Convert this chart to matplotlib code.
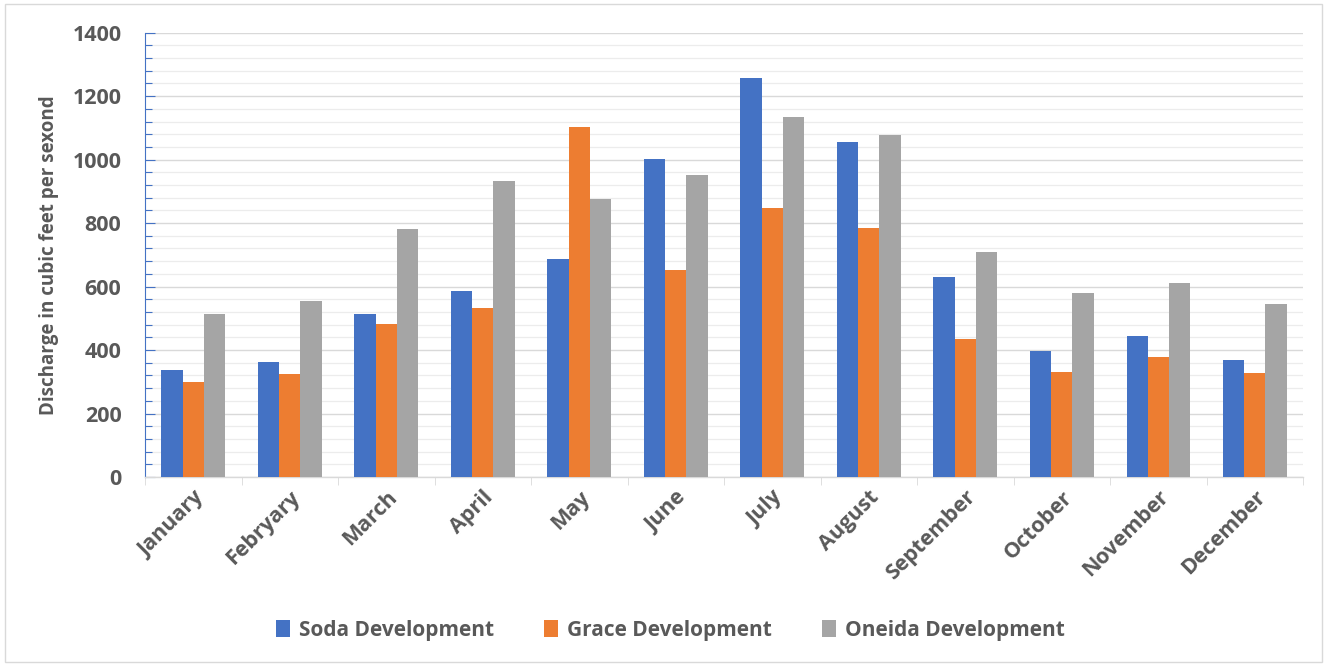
import matplotlib.pyplot as plt
import numpy as np
from matplotlib.patches import Rectangle
from matplotlib.ticker import MultipleLocator

# ---- data ----
months = ['January', 'Febryary', 'March', 'April', 'May', 'June',
          'July', 'August', 'September', 'October', 'November', 'December']
soda = [337, 361, 513, 587, 686, 1001, 1256, 1054, 631, 398, 445, 370]
grace = [300, 324, 481, 531, 1103, 652, 848, 786, 434, 330, 377, 327]
oneida = [515, 554, 780, 932, 877, 950, 1133, 1076, 710, 581, 610, 546]

series = [('Soda Development', soda, '#4472C4'),
          ('Grace Development', grace, '#ED7D31'),
          ('Oneida Development', oneida, '#A5A5A5')]

TXT = '#595959'
plt.rcParams['font.family'] = ['Open Sans', 'DejaVu Sans']
plt.rcParams['font.weight'] = 'bold'

fig = plt.figure(figsize=(13.27, 6.66), dpi=100)
fig.patch.set_facecolor('white')
fig.patches.append(Rectangle((0.004, 0.006), 0.992, 0.988, transform=fig.transFigure,
                             fill=False, edgecolor='#d9d9d9', linewidth=1.0))

ax = fig.add_axes([0.1093, 0.2838, 0.8727, 0.6672])

x = np.arange(len(months))
w = 0.22
for i, (name, vals, col) in enumerate(series):
    ax.bar(x + (i - 1) * w, vals, width=w, color=col, label=name, zorder=3)

ax.set_xlim(-0.5, len(months) - 0.5)
ax.set_ylim(0, 1400)

# grid
ax.yaxis.set_major_locator(MultipleLocator(200))
ax.yaxis.set_minor_locator(MultipleLocator(40))
ax.grid(axis='y', which='major', color='#d9d9d9', linewidth=1.0, zorder=0)
ax.grid(axis='y', which='minor', color='#ececec', linewidth=0.9, zorder=0)

for side in ['top', 'right']:
    ax.spines[side].set_visible(False)
ax.spines['left'].set_color('#4472C4')
ax.spines['left'].set_linewidth(0.8)
ax.spines['bottom'].set_color('#d9d9d9')
ax.spines['bottom'].set_linewidth(1.0)

ax.tick_params(axis='y', which='both', direction='in', color='#4472C4', width=0.8)
ax.tick_params(axis='y', which='major', length=7, labelsize=15.5, labelcolor=TXT, pad=17)
ax.tick_params(axis='y', which='minor', length=5)

# x ticks at category boundaries
ax.set_xticks(np.arange(len(months) + 1) - 0.5, minor=True)
ax.set_xticks(x)
ax.set_xticklabels(months, rotation=45, ha='right', rotation_mode='anchor',
                   fontsize=15.5, color=TXT, fontweight='bold')
ax.tick_params(axis='x', which='major', length=0, pad=7)
ax.tick_params(axis='x', which='minor', length=6, color='#d9d9d9', direction='out')

for lab in ax.get_yticklabels():
    lab.set_fontweight('bold')

ax.set_ylabel('Discharge in cubic feet per sexond', fontsize=13.5, color=TXT,
              fontweight='bold')
ax.yaxis.set_label_coords(-0.074, 0.5)

fig.legend(loc='center', bbox_to_anchor=(0.505, 0.054), ncol=3, frameon=False,
           handlelength=0.7, handleheight=0.9, handletextpad=0.4,
           columnspacing=2.4, labelcolor=TXT, prop={'weight': 'bold', 'size': 15})

fig.savefig('out.png', dpi=100, facecolor='white')
